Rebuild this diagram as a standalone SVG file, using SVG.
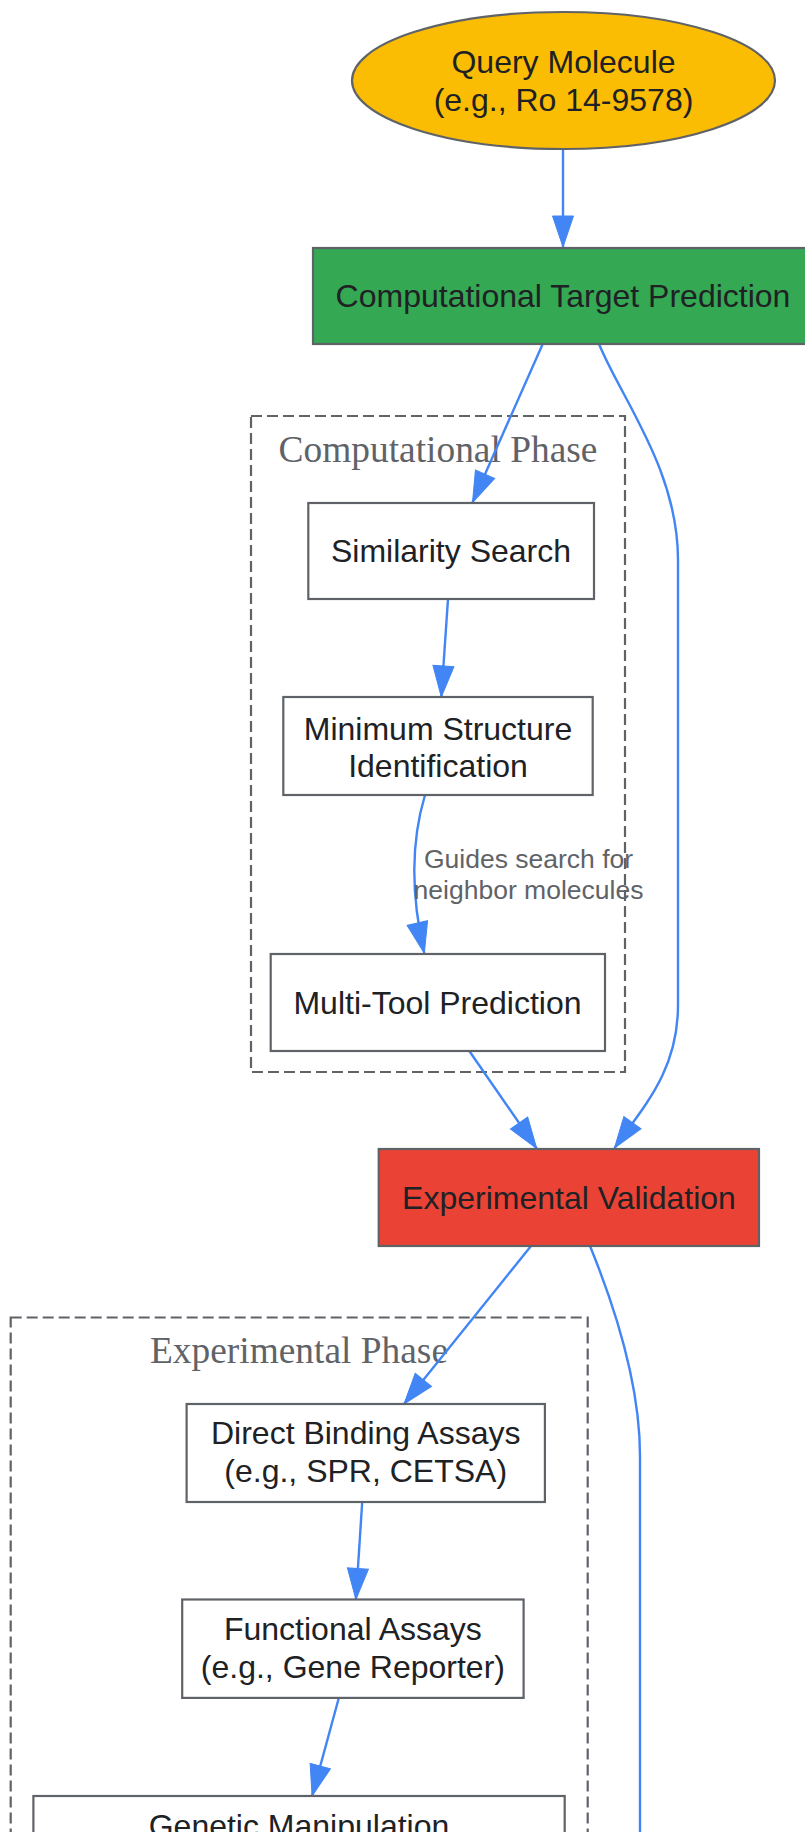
<svg xmlns="http://www.w3.org/2000/svg" width="805" height="1832" viewBox="0 0 805 1832">
<defs>
<style>
.node{stroke:#5f6368;stroke-width:2.2}
.nt{font-family:"Liberation Sans",Arial,sans-serif;font-size:32px;fill:#202124;text-anchor:middle}
.cl{fill:none;stroke:#5f6368;stroke-width:2.2;stroke-dasharray:11,5}
.ct{font-family:"Liberation Serif","Times New Roman",serif;font-size:37.4px;fill:#5f6368;text-anchor:middle}
.e{fill:none;stroke:#4285f4;stroke-width:2.4}
.el{font-family:"Liberation Sans",Arial,sans-serif;font-size:26.5px;fill:#5f6368;text-anchor:middle}
</style>
<marker id="ah" markerUnits="userSpaceOnUse" markerWidth="34" markerHeight="24" viewBox="0 -12 32 24" refX="31" refY="0" orient="auto">
<path d="M0,-10.5 L31,0 L0,10.5 z" fill="#4285f4" stroke="#4285f4" stroke-width="1"/>
</marker>
</defs>
<rect width="805" height="1832" fill="#ffffff"/>

<g id="cluster_comp">
<rect class="cl" x="251" y="416" width="374" height="656"/>
<text class="ct" x="438" y="461.5">Computational Phase</text>
</g>
<g id="cluster_exp">
<rect class="cl" x="10.7" y="1317.5" width="577" height="700"/>
<text class="ct" x="299" y="1363.3">Experimental Phase</text>
</g>

<g id="edges">
<path class="e" d="M563,149 L563,247" marker-end="url(#ah)"/>
<path class="e" d="M542.7,344 L472.5,502.5" marker-end="url(#ah)"/>
<path class="e" d="M599,344 C622,400 678,470 678,560 L678,1005 C678,1070 645,1105 614.5,1148" marker-end="url(#ah)"/>
<path class="e" d="M448,599 L441.3,697" marker-end="url(#ah)"/>
<path class="e" d="M425,795 C410,845 412,900 424.3,953.3" marker-end="url(#ah)"/>
<text class="el" x="528.5" y="868.3">Guides search for</text>
<text class="el" x="528.5" y="899.3">neighbor molecules</text>
<path class="e" d="M469.3,1051 L536.7,1148.5" marker-end="url(#ah)"/>
<path class="e" d="M531,1246 L404,1404" marker-end="url(#ah)"/>
<path class="e" d="M590,1246 C610,1295 640,1380 640,1456 L640,1840"/>
<path class="e" d="M362.2,1502 L355.9,1599.5" marker-end="url(#ah)"/>
<path class="e" d="M338.8,1698 L312.1,1796" marker-end="url(#ah)"/>
</g>

<g id="query">
<ellipse class="node" cx="563.5" cy="80.5" rx="211.5" ry="68.5" fill="#fbbc04"/>
<text class="nt" x="563.5" y="73.3">Query Molecule</text>
<text class="nt" x="563.5" y="111">(e.g., Ro 14-9578)</text>
</g>
<g id="ctp">
<rect class="node" x="313" y="248" width="500" height="96" fill="#34a853"/>
<text class="nt" x="563" y="307">Computational Target Prediction</text>
</g>
<g id="sim">
<rect class="node" x="308.3" y="503" width="285.7" height="96" fill="#ffffff"/>
<text class="nt" x="451" y="562">Similarity Search</text>
</g>
<g id="minstruct">
<rect class="node" x="283.3" y="697" width="309.4" height="98" fill="#ffffff"/>
<text class="nt" x="438" y="739.5">Minimum Structure</text>
<text class="nt" x="438" y="777">Identification</text>
</g>
<g id="multitool">
<rect class="node" x="270.7" y="954" width="334.3" height="97" fill="#ffffff"/>
<text class="nt" x="437.5" y="1013.5">Multi-Tool Prediction</text>
</g>
<g id="expval">
<rect class="node" x="378.7" y="1149" width="380.3" height="97" fill="#ea4335"/>
<text class="nt" x="569" y="1208.5">Experimental Validation</text>
</g>
<g id="binding">
<rect class="node" x="186.6" y="1404" width="358.3" height="98" fill="#ffffff"/>
<text class="nt" x="365.7" y="1444">Direct Binding Assays</text>
<text class="nt" x="365.7" y="1482">(e.g., SPR, CETSA)</text>
</g>
<g id="functional">
<rect class="node" x="182.2" y="1599.5" width="341.4" height="98.4" fill="#ffffff"/>
<text class="nt" x="352.9" y="1640">Functional Assays</text>
<text class="nt" x="352.9" y="1678">(e.g., Gene Reporter)</text>
</g>
<g id="genetic">
<rect class="node" x="33.4" y="1796" width="531.3" height="100" fill="#ffffff"/>
<text class="nt" x="299" y="1837">Genetic Manipulation</text>
</g>
</svg>
